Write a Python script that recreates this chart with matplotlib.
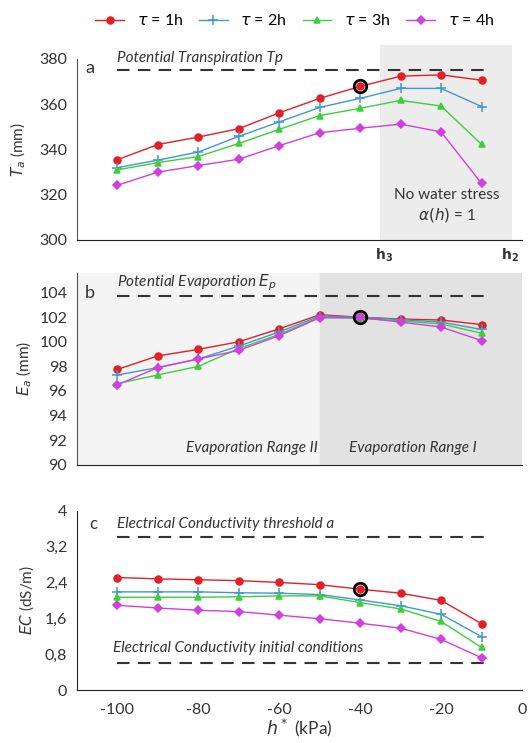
import numpy as np
import matplotlib
matplotlib.use("Agg")
import matplotlib.pyplot as plt
from matplotlib.patches import Rectangle

plt.rcParams['font.family'] = ['Lato', 'DejaVu Sans']
plt.rcParams['axes.unicode_minus'] = False

# suction head (kPa)
h = [-100, -90, -80, -70, -60, -50, -40, -30, -20, -10]

# panel a: actual transpiration Ta (mm)
ta_1h = [335.5, 342.2, 345.5, 349.2, 356.2, 362.6, 367.9, 372.4, 373.0, 370.6]
ta_2h = [332.0, 335.3, 338.9, 345.8, 352.2, 358.6, 362.6, 367.0, 367.0, 359.0]
ta_3h = [331.0, 334.2, 336.9, 342.7, 348.9, 355.0, 358.2, 361.7, 359.2, 342.3]
ta_4h = [324.2, 330.0, 332.9, 335.7, 341.7, 347.4, 349.4, 351.2, 347.8, 325.0]
tp = 375

# panel b: actual evaporation Ea (mm)
ea_1h = [97.75, 98.85, 99.38, 100.0, 101.05, 102.2, 102.0, 101.85, 101.77, 101.4]
ea_2h = [97.3, 97.9, 98.6, 99.65, 100.8, 102.1, 102.0, 101.8, 101.6, 101.0]
ea_3h = [96.6, 97.3, 98.0, 99.45, 100.6, 102.0, 101.9, 101.7, 101.45, 100.7]
ea_4h = [96.5, 97.9, 98.6, 99.3, 100.5, 101.95, 101.98, 101.6, 101.2, 100.1]
ep = 103.7

# panel c: electrical conductivity EC (dS/m)
ec_1h = [2.51, 2.48, 2.46, 2.44, 2.40, 2.35, 2.25, 2.16, 2.00, 1.48]
ec_2h = [2.19, 2.19, 2.19, 2.17, 2.16, 2.13, 2.01, 1.88, 1.69, 1.19]
ec_3h = [2.07, 2.07, 2.07, 2.08, 2.10, 2.10, 1.95, 1.81, 1.53, 0.95]
ec_4h = [1.89, 1.83, 1.78, 1.75, 1.67, 1.59, 1.49, 1.38, 1.13, 0.72]
ec_thr = 3.41
ec_init = 0.61

labels = [r"$\tau$ = 1h", r"$\tau$ = 2h", r"$\tau$ = 3h", r"$\tau$ = 4h"]
colors = ['#e41f26', '#3f97d6', '#3ccf3c', '#d23fdf']
markers = ['o', '+', '^', 'D']
msizes = [5, 7, 4.5, 4]

fig = plt.figure(figsize=(5.31, 7.43), dpi=100)
ax_a = fig.add_axes([0.145, 0.677, 0.838, 0.2436])
ax_b = fig.add_axes([0.145, 0.3747, 0.838, 0.2579])
ax_c = fig.add_axes([0.145, 0.0713, 0.838, 0.2413])


def draw_series(ax, series):
    lines = []
    for ys, c, m, ms in zip(series, colors, markers, msizes):
        ln, = ax.plot(h, ys, color=c, lw=1.0, marker=m, ms=ms, mfc=c, mec=c,
                      mew=1.1, zorder=3)
        lines.append(ln)
    return lines


def style(ax):
    ax.set_xlim(-110, 0)
    for s in ['top', 'right']:
        ax.spines[s].set_visible(False)
    ax.spines['left'].set_color('#555555')
    ax.spines['bottom'].set_color('#222222')
    ax.tick_params(length=0, labelsize=11.5, colors='#333333', pad=7)


dash = dict(color='#333333', lw=1.5, ls=(0, (6, 4)), zorder=2)
ital = dict(style='italic', fontsize=11, color='#333333')

# ---- panel a
style(ax_a)
ax_a.add_patch(Rectangle((-35, 300), 32.5, 86, facecolor='#ececec',
                         edgecolor='none', zorder=0, clip_on=False))
lines = draw_series(ax_a, [ta_1h, ta_2h, ta_3h, ta_4h])
ax_a.plot([-100, -8], [tp, tp], **dash)
ax_a.plot(-40, ta_1h[6], 'o', mfc='none', mec='k', ms=9, mew=2, zorder=4)
ax_a.set_ylim(300, 380)
ax_a.set_yticks([300, 320, 340, 360, 380])
ax_a.set_xticks([])
ax_a.set_ylabel(r"$T_a$ (mm)", fontsize=11, color='#333333', labelpad=8)
ax_a.text(-108, 376, "a", fontsize=13, color='#333333', va='center')
ax_a.text(-100, 377.5, "Potential Transpiration Tp", va='bottom', clip_on=False, **ital)
ax_a.text(-18.5, 318, "No water stress", ha='center', fontsize=11, color='#333333')
ax_a.text(-18.5, 309, r"$\alpha(h)$ = 1", ha='center', fontsize=11, color='#333333')
ax_a.text(-34, 297, r"$\mathbf{h_3}$", ha='center', va='top', fontsize=10, color='#333333')
ax_a.text(-3, 297, r"$\mathbf{h_2}$", ha='center', va='top', fontsize=10, color='#333333')

# ---- panel b
style(ax_b)
ax_b.set_facecolor('#f4f4f4')
ax_b.axvspan(-50, 0, color='#e2e2e2', zorder=0)
draw_series(ax_b, [ea_1h, ea_2h, ea_3h, ea_4h])
ax_b.plot([-100, -8], [ep, ep], **dash)
ax_b.plot(-40, ea_1h[6], 'o', mfc='none', mec='k', ms=9, mew=2, zorder=4)
ax_b.set_ylim(90, 105.6)
ax_b.set_yticks(np.arange(90, 105, 2))
ax_b.set_xticks([])
ax_b.set_ylabel(r"$E_a$ (mm)", fontsize=11, color='#333333', labelpad=4)
ax_b.text(-108, 104, "b", fontsize=13, color='#333333', va='center')
ax_b.text(-100, 104.0, r"Potential Evaporation $E_p$", va='bottom', **ital)
ax_b.text(-50.5, 90.8, "Evaporation Range II", ha='right', va='bottom', **ital)
ax_b.text(-27, 90.8, "Evaporation Range I", ha='center', va='bottom', **ital)

# ---- panel c
style(ax_c)
ax_c.spines['left'].set_color('#222222')
draw_series(ax_c, [ec_1h, ec_2h, ec_3h, ec_4h])
ax_c.plot([-100, -8], [ec_thr, ec_thr], **dash)
ax_c.plot([-100, -8], [ec_init, ec_init], **dash)
ax_c.plot(-40, ec_1h[6], 'o', mfc='none', mec='k', ms=9, mew=2, zorder=4)
ax_c.set_ylim(0, 4)
ax_c.set_yticks([0, 0.8, 1.6, 2.4, 3.2, 4])
ax_c.set_yticklabels(["0", "0,8", "1,6", "2,4", "3,2", "4"])
ax_c.set_xticks([-100, -80, -60, -40, -20, 0])
ax_c.tick_params(axis='x', pad=9)
ax_c.set_ylabel(r"$EC$ (dS/m)", fontsize=11, color='#333333', labelpad=6)
ax_c.set_xlabel(r"$h^*$ (kPa)", fontsize=12.5, color='#333333', labelpad=0)
ax_c.text(-107, 3.7, "c", fontsize=12, color='#333333', va='center')
ax_c.text(-100, 3.55, "Electrical Conductivity threshold a", va='bottom', **ital)
ax_c.text(-101, 0.78, "Electrical Conductivity initial conditions", va='bottom', **ital)

fig.legend(lines, labels, loc='center', bbox_to_anchor=(0.555, 0.972), ncol=4,
           frameon=False, fontsize=11.5, handlelength=1.8, columnspacing=1.0,
           handletextpad=0.8)

fig.savefig("out.png", dpi=100)
